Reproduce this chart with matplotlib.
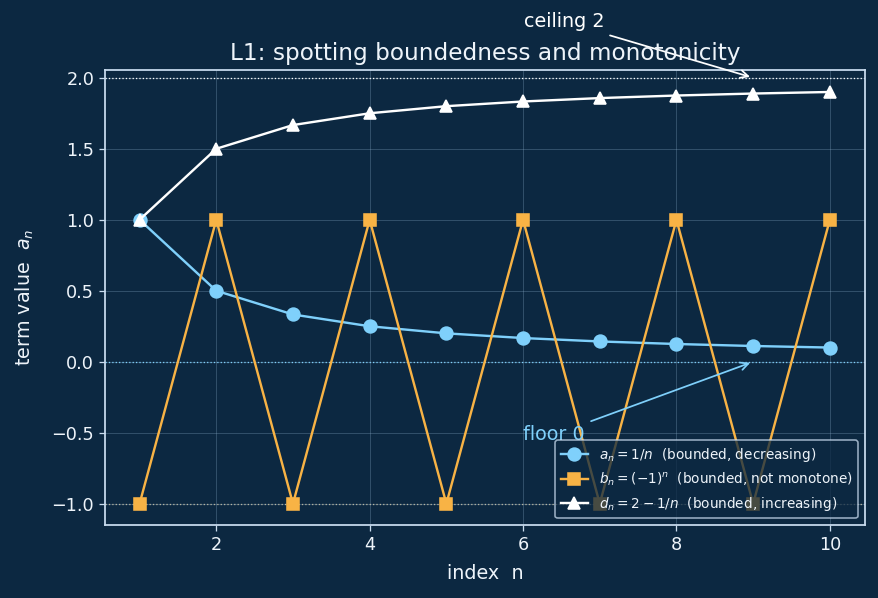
import numpy as np
import matplotlib
matplotlib.use("Agg")
import matplotlib.pyplot as plt

# sequence terms, n = 1..10
n = [1, 2, 3, 4, 5, 6, 7, 8, 9, 10]
a_vals = [1.0, 0.5, 0.333, 0.25, 0.2, 0.167, 0.143, 0.125, 0.111, 0.1]
b_vals = [-1, 1, -1, 1, -1, 1, -1, 1, -1, 1]
d_vals = [1.0, 1.5, 1.667, 1.75, 1.8, 1.833, 1.857, 1.875, 1.889, 1.9]

bg = "#0c2841"
fg = "#eef4fa"
spine_col = "#c9dcef"
c_a = "#7fd0fb"
c_b = "#f8b345"
c_d = "#ffffff"

DPI = 115
fig = plt.figure(figsize=(878 / DPI, 598 / DPI), dpi=DPI, facecolor=bg)
ax = fig.add_axes([0.12, 0.122, 0.865, 0.761], facecolor=bg)

ax.plot(n, a_vals, color=c_a, marker="o", ms=8, lw=1.5,
        label=r"$a_n = 1/n$  (bounded, decreasing)", zorder=3)
ax.plot(n, b_vals, color=c_b, marker="s", ms=8, lw=1.5,
        label=r"$b_n = (-1)^n$  (bounded, not monotone)", zorder=3)
ax.plot(n, d_vals, color=c_d, marker="^", ms=8, lw=1.5,
        label=r"$d_n = 2 - 1/n$  (bounded, increasing)", zorder=3)

# bound reference lines
ax.axhline(2, color="white", ls=":", lw=0.8, zorder=2)
ax.axhline(0, color=c_a, ls=":", lw=0.8, zorder=2)
ax.axhline(-1, color="#d9cfb0", ls=":", lw=0.8, alpha=0.8, zorder=2)

ax.annotate("ceiling 2", xy=(9, 2.0), xytext=(6.535, 2.394), color="white",
            fontsize=12, ha="center", va="center", annotation_clip=False,
            arrowprops=dict(arrowstyle="->", color="white", lw=1.1))
ax.annotate("floor 0", xy=(9, 0.0), xytext=(6.404, -0.514), color=c_a,
            fontsize=12, ha="center", va="center",
            arrowprops=dict(arrowstyle="->", color=c_a, lw=1.1))

ax.set_xlim(0.554, 10.456)
ax.set_ylim(-1.15, 2.055)
ax.set_xticks([2, 4, 6, 8, 10])
ax.set_yticks([-1.0, -0.5, 0.0, 0.5, 1.0, 1.5, 2.0])
ax.grid(True, color="#8fb0cc", alpha=0.3, lw=0.6)
ax.set_axisbelow(True)

for s in ax.spines.values():
    s.set_color(spine_col)
    s.set_linewidth(1.1)
ax.tick_params(colors=spine_col, labelcolor=fg, labelsize=11)

ax.set_title("L1: spotting boundedness and monotonicity", color=fg, fontsize=14.5)
ax.set_xlabel("index  n", color=fg, fontsize=12, labelpad=6)
ax.set_ylabel(r"term value  $a_n$", color=fg, fontsize=12, labelpad=10)

leg = ax.legend(loc="lower right", fontsize=8.5, facecolor=bg, edgecolor=spine_col,
                framealpha=0.75)
for t in leg.get_texts():
    t.set_color(fg)

fig.savefig("out.png", dpi=DPI, facecolor=bg)
